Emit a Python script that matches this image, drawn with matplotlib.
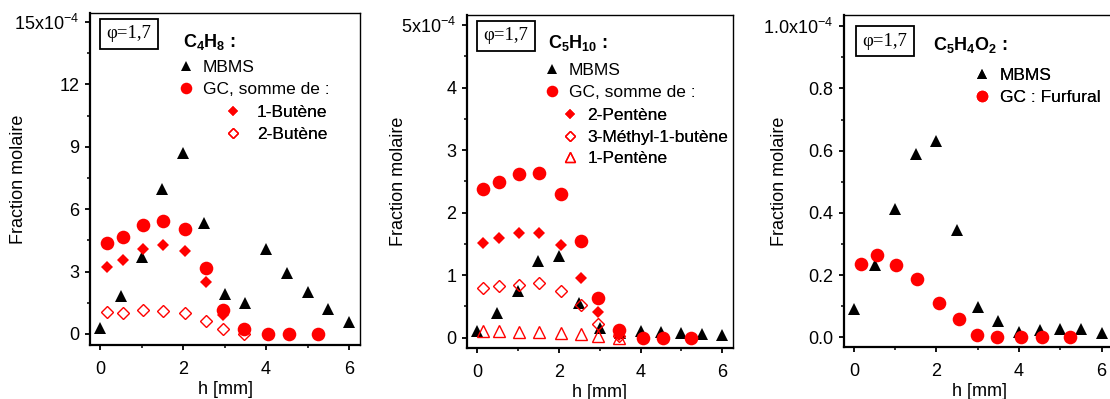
import numpy as np
import matplotlib
matplotlib.use('Agg')
import matplotlib.pyplot as plt

plt.rcParams['font.family'] = ['Liberation Sans', 'DejaVu Sans']
plt.rcParams['mathtext.fontset'] = 'custom'
plt.rcParams['mathtext.rm'] = 'Liberation Sans'
plt.rcParams['mathtext.bf'] = 'Liberation Sans:bold'
plt.rcParams['mathtext.default'] = 'regular'
plt.rcParams['font.size'] = 12.5

RED = '#ff0000'

# h positions [mm]
h_mbms = [0, 0.5, 1, 1.5, 2, 2.5, 3, 3.5, 4, 4.5, 5, 5.5, 6]
h_gc = [0.16, 0.55, 1.03, 1.52, 2.05, 2.55, 2.97, 3.47, 4.05, 4.55, 5.24]

# C4H8 (x1e-4)
c4h8_mbms = [0.27, 1.83, 3.72, 6.95, 8.69, 5.32, 1.92, 1.5, 4.07, 2.92, 2.02, 1.22, 0.58]
c4h8_gc = [4.36, 4.65, 5.24, 5.42, 5.03, 3.17, 1.15, 0.22, 0.0, 0.0, 0.0]
butene1 = [3.24, 3.56, 4.1, 4.26, 4.0, 2.5, 0.91, 0.2]
butene2 = [1.04, 1.03, 1.15, 1.12, 0.99, 0.64, 0.22, 0.0]

# C5H10 (x1e-4)
c5h10_mbms = [0.1, 0.39, 0.75, 1.22, 1.3, 0.55, 0.15, 0.07, 0.1, 0.085, 0.07, 0.053, 0.04]
c5h10_gc = [2.38, 2.49, 2.61, 2.63, 2.29, 1.54, 0.64, 0.13, 0.0, 0.0, 0.0]
pentene2 = [1.51, 1.59, 1.67, 1.68, 1.48, 0.96, 0.41, 0.04]
methylbutene = [0.8, 0.83, 0.84, 0.87, 0.75, 0.53, 0.22, 0.02]
pentene1 = [0.1, 0.1, 0.09, 0.09, 0.08, 0.06, 0.02, 0.0]

# C5H4O2 (x1e-4)
c5h4o2_mbms = [0.09, 0.232, 0.414, 0.589, 0.63, 0.345, 0.099, 0.054, 0.018, 0.024, 0.027, 0.026, 0.013]
furfural = [0.236, 0.266, 0.232, 0.186, 0.112, 0.058, 0.006, 0.0, 0.0, 0.0, 0.0]

W, H = 1110, 399
fig = plt.figure(figsize=(W / 100, H / 100), dpi=100)


def px_axes(l, r, t, b):
    return fig.add_axes([l / W, 1 - b / H, (r - l) / W, (b - t) / H])


def style(ax, ylim, yticks, ylabels, yminor, lab_x):
    ax.set_xlim(-0.24, 6.26)
    ax.set_ylim(*ylim)
    ax.set_xticks([0, 2, 4, 6])
    ax.set_xticks([1, 3, 5], minor=True)
    ax.set_yticks(yticks, ylabels)
    ax.set_yticks(yminor, minor=True)
    for s in ['left', 'bottom']:
        ax.spines[s].set_linewidth(1.6)
    for s in ['top', 'right']:
        ax.spines[s].set_linewidth(1.0)
    ax.tick_params(which='major', direction='out', length=3.5, width=1.3, labelsize=13)
    ax.tick_params(which='minor', direction='out', length=2, width=1.1)
    ax.tick_params(axis='x', pad=8)
    ax.tick_params(axis='y', pad=4)
    ax.set_xlabel('h [mm]', fontsize=13, labelpad=2)
    ax.set_ylabel('Fraction molaire', fontsize=13)
    ax.yaxis.set_label_coords(lab_x, 0.5)


def phi_box(x, y):
    fig.text(x / W, 1 - y / H, u'\u03c6=1,7', family='Liberation Serif', fontsize=13.5,
             ha='center', va='center',
             bbox=dict(boxstyle='square,pad=0.36', fc='white', ec='black', lw=1.3))


def leg(ax, handles, labels, x, y, pad):
    lg = ax.legend(handles, labels, loc='upper left', bbox_to_anchor=(x / W, 1 - y / H),
                   bbox_transform=fig.transFigure, frameon=False, borderpad=0,
                   borderaxespad=0, handlelength=1, handletextpad=pad,
                   labelspacing=0.37, markerscale=0.85, fontsize=12.5)
    ax.add_artist(lg)
    return lg


mk_tri = dict(ls='none', marker='^', ms=9, color='black', mew=0)
mk_circ = dict(ls='none', marker='o', ms=9.8, color=RED, mew=0)
mk_dia = dict(ls='none', marker='D', ms=6, color=RED, mew=0)
mk_odia = dict(ls='none', marker='D', ms=6, mfc='none', mec=RED, mew=1)
mk_otri = dict(ls='none', marker='^', ms=9, mfc='none', mec=RED, mew=1)

# panel 1
ax1 = px_axes(90, 360, 13, 345)
a, = ax1.plot(h_mbms, c4h8_mbms, **mk_tri)
b, = ax1.plot(h_gc, c4h8_gc, **mk_circ)
c, = ax1.plot(h_gc[:len(butene1)], butene1, **mk_dia)
d, = ax1.plot(h_gc[:len(butene2)], butene2, **mk_odia)
style(ax1, (-0.53, 15.43), [0, 3, 6, 9, 12, 15],
      ['0', '3', '6', '9', '12', '15x10$^{-4}$'], [1.5, 4.5, 7.5, 10.5, 13.5], -0.233)
phi_box(129, 34)
fig.text(183 / W, 1 - 42 / H, r'$\mathbf{C_4H_8}$ :', fontsize=13, fontweight='bold', va='center')
leg(ax1, [a, b], ['MBMS', 'GC, somme de :'], 177, 60, 0.5)
leg(ax1, [c, d], [u'1-Butène', u'2-Butène'], 224, 105, 0.88)

# panel 2
ax2 = px_axes(467, 733, 15, 348)
a, = ax2.plot(h_mbms, c5h10_mbms, **mk_tri)
b, = ax2.plot(h_gc, c5h10_gc, **mk_circ)
c, = ax2.plot(h_gc[:len(pentene2)], pentene2, **mk_dia)
d, = ax2.plot(h_gc[:len(methylbutene)], methylbutene, **mk_odia)
e, = ax2.plot(h_gc[:len(pentene1)], pentene1, **mk_otri)
style(ax2, (-0.165, 5.16), [0, 1, 2, 3, 4, 5],
      ['0', '1', '2', '3', '4', '5x10$^{-4}$'], [0.5, 1.5, 2.5, 3.5, 4.5], -0.226)
phi_box(506, 36)
fig.text(548 / W, 1 - 43 / H, r'$\mathbf{C_5H_{10}}$ :', fontsize=13, fontweight='bold', va='center')
leg(ax2, [a, b], ['MBMS', 'GC, somme de :'], 543, 63, 0.48)
leg(ax2, [c, d, e], [u'2-Pentène', u'3-Méthyl-1-butène', u'1-Pentène'], 561, 108, 0.53)

# panel 3
ax3 = px_axes(844, 1114, 15, 347)
a, = ax3.plot(h_mbms, c5h4o2_mbms, **mk_tri)
b, = ax3.plot(h_gc, furfural, **mk_circ)
style(ax3, (-0.031, 1.036), [0, 0.2, 0.4, 0.6, 0.8, 1.0],
      ['0.0', '0.2', '0.4', '0.6', '0.8', '1.0x10$^{-4}$'],
      [0.1, 0.3, 0.5, 0.7, 0.9], -0.207)
ax3.set_xlim(-0.24, 6.3)
phi_box(885, 41)
fig.text(933 / W, 1 - 45 / H, r'$\mathbf{C_5H_4O_2}$ :', fontsize=13, fontweight='bold', va='center')
leg(ax3, [a, b], ['MBMS', 'GC : Furfural'], 973, 68, 0.53)

fig.savefig('out.png', dpi=100)
